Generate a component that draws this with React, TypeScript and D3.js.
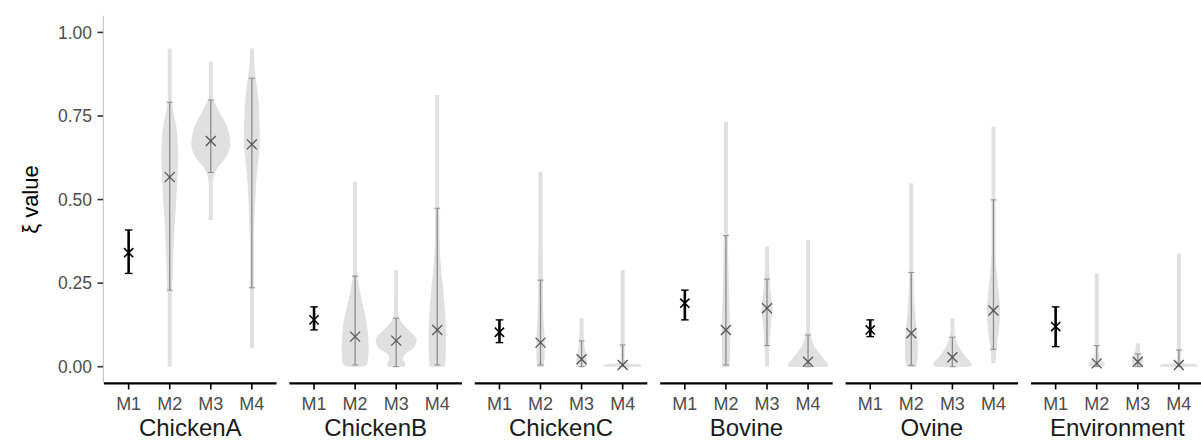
import React from "react";
import * as d3 from "d3";

// Source groups (facets) and estimation methods (x categories)
const groups = ["ChickenA", "ChickenB", "ChickenC", "Bovine", "Ovine", "Environment"];
const methods = ["M1", "M2", "M3", "M4"];
const yTicks = [0, 0.25, 0.5, 0.75, 1.0];

// M1: point estimate with confidence interval, one per group
const m1Estimate = [0.341, 0.14, 0.103, 0.19, 0.11, 0.12];
const m1Lower = [0.279, 0.11, 0.072, 0.14, 0.09, 0.06];
const m1Upper = [0.409, 0.179, 0.14, 0.229, 0.14, 0.179];

// M2–M4: posterior summaries, one row per group, columns M2, M3, M4
const postEstimate = [
  [0.567, 0.675, 0.665],
  [0.09, 0.078, 0.11],
  [0.072, 0.022, 0.005],
  [0.11, 0.175, 0.015],
  [0.1, 0.028, 0.168],
  [0.01, 0.015, 0.005],
];
const postLower = [
  [0.229, 0.581, 0.236],
  [0.005, 0.0, 0.005],
  [0.005, 0.0, 0.0],
  [0.005, 0.063, 0.0],
  [0.004, 0.0, 0.052],
  [0.0, 0.0, 0.0],
];
const postUpper = [
  [0.791, 0.798, 0.863],
  [0.271, 0.145, 0.474],
  [0.259, 0.077, 0.065],
  [0.392, 0.262, 0.095],
  [0.282, 0.088, 0.499],
  [0.063, 0.038, 0.05],
];
const postMin = [
  [0.0, 0.439, 0.055],
  [0.0, 0.0, 0.0],
  [0.0, 0.0, 0.0],
  [0.0, 0.0, 0.0],
  [0.0, 0.0, 0.01],
  [0.0, 0.0, 0.0],
];
const postMax = [
  [0.952, 0.912, 0.952],
  [0.553, 0.289, 0.813],
  [0.583, 0.145, 0.289],
  [0.733, 0.359, 0.379],
  [0.549, 0.145, 0.718],
  [0.279, 0.07, 0.339],
];

// Violin profiles: [value, half-width as a fraction of the category step]
const violins: [number, number][][][] = [
  [
    [[0.22, 0.05], [0.3, 0.08], [0.41, 0.115], [0.5, 0.16], [0.56, 0.185], [0.62, 0.205], [0.68, 0.19], [0.72, 0.16], [0.76, 0.09], [0.79, 0.05]],
    [[0.55, 0.05], [0.58, 0.1], [0.6, 0.2], [0.63, 0.39], [0.667, 0.475], [0.72, 0.39], [0.76, 0.22], [0.8, 0.05]],
    [[0.4, 0.05], [0.46, 0.07], [0.56, 0.11], [0.66, 0.19], [0.75, 0.18], [0.8, 0.16], [0.86, 0.1], [0.9, 0.06], [0.95, 0.04]],
  ],
  [
    [[0.0, 0.2], [0.008, 0.29], [0.03, 0.32], [0.06, 0.33], [0.1, 0.31], [0.14, 0.27], [0.2, 0.16], [0.25, 0.08], [0.28, 0.05]],
    [[0.0, 0.2], [0.008, 0.22], [0.02, 0.17], [0.035, 0.2], [0.06, 0.45], [0.084, 0.49], [0.11, 0.3], [0.13, 0.15], [0.15, 0.06], [0.2, 0.05]],
    [[0.0, 0.18], [0.02, 0.2], [0.1, 0.21], [0.2, 0.17], [0.3, 0.09], [0.4, 0.05], [0.45, 0.05]],
  ],
  [
    [[0.0, 0.08], [0.03, 0.1], [0.08, 0.1], [0.15, 0.07], [0.25, 0.055], [0.35, 0.05]],
    [[0.0, 0.12], [0.02, 0.13], [0.04, 0.1], [0.07, 0.06], [0.1, 0.05]],
    [[0.0, 0.46], [0.006, 0.44], [0.011, 0.1], [0.02, 0.05]],
  ],
  [
    [[0.0, 0.09], [0.05, 0.1], [0.12, 0.1], [0.2, 0.08], [0.3, 0.06], [0.4, 0.05]],
    [[0.04, 0.05], [0.08, 0.07], [0.13, 0.1], [0.175, 0.13], [0.22, 0.09], [0.27, 0.06], [0.3, 0.05]],
    [[0.0, 0.47], [0.006, 0.49], [0.02, 0.4], [0.04, 0.28], [0.06, 0.16], [0.08, 0.09], [0.1, 0.05]],
  ],
  [
    [[0.0, 0.12], [0.02, 0.15], [0.06, 0.155], [0.1, 0.14], [0.15, 0.1], [0.2, 0.07], [0.27, 0.05]],
    [[0.0, 0.42], [0.006, 0.47], [0.015, 0.44], [0.03, 0.32], [0.06, 0.16], [0.08, 0.09], [0.1, 0.05]],
    [[0.02, 0.05], [0.06, 0.08], [0.12, 0.14], [0.17, 0.16], [0.22, 0.13], [0.28, 0.08], [0.33, 0.05]],
  ],
  [
    [[0.0, 0.16], [0.007, 0.2], [0.015, 0.16], [0.025, 0.08], [0.04, 0.05]],
    [[0.0, 0.08], [0.01, 0.13], [0.02, 0.14], [0.03, 0.11], [0.045, 0.06], [0.055, 0.05]],
    [[0.0, 0.46], [0.006, 0.44], [0.011, 0.1], [0.02, 0.05]],
  ],
];

const W = 1201;
const H = 442;
const FONT = "'Liberation Sans', Arial, Helvetica, sans-serif";

const panelTop = 15.7;
const panelBottom = 383.4;
const plotLeft = 104;
const plotRight = 1203.5;

const y = d3.scaleLinear().domain([-0.05, 1.05]).range([panelBottom, panelTop]);
const panelScale = d3
  .scaleBand<string>()
  .domain(groups)
  .range([plotLeft, plotRight])
  .paddingInner(0.0696)
  .paddingOuter(0);

const LIGHT = "#e0e0e0";
const BAR = "#8c8c8c";
const MARK = "#555555";

function Cross({ cx, cy, r, color, sw }: { cx: number; cy: number; r: number; color: string; sw: number }) {
  return (
    <g stroke={color} strokeWidth={sw} strokeLinecap="butt">
      <line x1={cx - r} y1={cy - r} x2={cx + r} y2={cy + r} />
      <line x1={cx - r} y1={cy + r} x2={cx + r} y2={cy - r} />
    </g>
  );
}

function ErrorBar({ cx, lo, hi, color, sw, cap, capSw }: { cx: number; lo: number; hi: number; color: string; sw: number; cap: number; capSw: number }) {
  return (
    <g stroke={color}>
      <line x1={cx} x2={cx} y1={y(lo)} y2={y(hi)} strokeWidth={sw} />
      <line x1={cx - cap} x2={cx + cap} y1={y(lo)} y2={y(lo)} strokeWidth={capSw} />
      <line x1={cx - cap} x2={cx + cap} y1={y(hi)} y2={y(hi)} strokeWidth={capSw} />
    </g>
  );
}

function Panel({ gi }: { gi: number }) {
  const g = groups[gi];
  const x0 = panelScale(g)!;
  const bw = panelScale.bandwidth();
  const x = d3.scalePoint<string>().domain(methods).range([x0, x0 + bw]).padding(0.6);
  const step = x.step();

  return (
    <g>
      {methods.slice(1).map((m, k) => {
        const cx = x(m)!;
        const area = d3
          .area<[number, number]>()
          .y((d) => y(d[0]))
          .x0((d) => cx - d[1] * step)
          .x1((d) => cx + d[1] * step)
          .curve(d3.curveCatmullRom);
        return (
          <g key={m}>
            <line
              x1={cx}
              x2={cx}
              y1={y(postMin[gi][k])}
              y2={y(postMax[gi][k])}
              stroke={LIGHT}
              strokeWidth={4}
            />
            <path d={area(violins[gi][k]) || ""} fill={LIGHT} />
            <ErrorBar cx={cx} lo={postLower[gi][k]} hi={postUpper[gi][k]} color={BAR} sw={1.3} cap={3} capSw={1} />
            <Cross cx={cx} cy={y(postEstimate[gi][k])} r={5} color={MARK} sw={1.3} />
          </g>
        );
      })}
      <g>
        <ErrorBar cx={x("M1")!} lo={m1Lower[gi]} hi={m1Upper[gi]} color="#000" sw={2.6} cap={3.8} capSw={1.4} />
        <Cross cx={x("M1")!} cy={y(m1Estimate[gi])} r={4.6} color="#000" sw={1.6} />
      </g>
      {/* bottom axis */}
      <line x1={x0} x2={x0 + bw} y1={panelBottom} y2={panelBottom} stroke="#000" strokeWidth={2.2} />
      {methods.map((m) => (
        <g key={m}>
          <line x1={x(m)!} x2={x(m)!} y1={panelBottom} y2={panelBottom + 6} stroke="#000" strokeWidth={1.6} />
          <text
            x={x(m)!}
            y={panelBottom + 26.5}
            textAnchor="middle"
            fontSize={18}
            fill="#4d4d4d"
            fontFamily={FONT}
          >
            {m}
          </text>
        </g>
      ))}
      <text
        x={x0 + bw / 2}
        y={436}
        textAnchor="middle"
        fontSize={24}
        fill="#1a1a1a"
        fontFamily={FONT}
      >
        {g}
      </text>
    </g>
  );
}

export default function App() {
  return (
    <svg
      width={W}
      height={H}
      viewBox={`0 0 ${W} ${H}`}
      style={{ position: "absolute", left: 0, top: 0, background: "#fff" }}
    >
      <rect width={W} height={H} fill="#fff" />
      {/* left axis */}
      <line x1={103.3} x2={103.3} y1={panelTop} y2={panelBottom} stroke="#bdbdbd" strokeWidth={1} />
      {yTicks.map((t) => (
        <g key={t}>
          <line x1={97.5} x2={103} y1={y(t)} y2={y(t)} stroke="#333" strokeWidth={1.6} />
          <text
            x={92}
            y={y(t)}
            dy="0.36em"
            textAnchor="end"
            fontSize={17.5}
            fill="#4d4d4d"
            fontFamily={FONT}
          >
            {d3.format(".2f")(t)}
          </text>
        </g>
      ))}
      <text
        transform={`translate(38, ${(panelTop + panelBottom) / 2}) rotate(-90)`}
        textAnchor="middle"
        fontSize={22}
        fill="#000"
        fontFamily={FONT}
      >
        ξ value
      </text>
      {groups.map((g, gi) => (
        <Panel key={g} gi={gi} />
      ))}
    </svg>
  );
}
